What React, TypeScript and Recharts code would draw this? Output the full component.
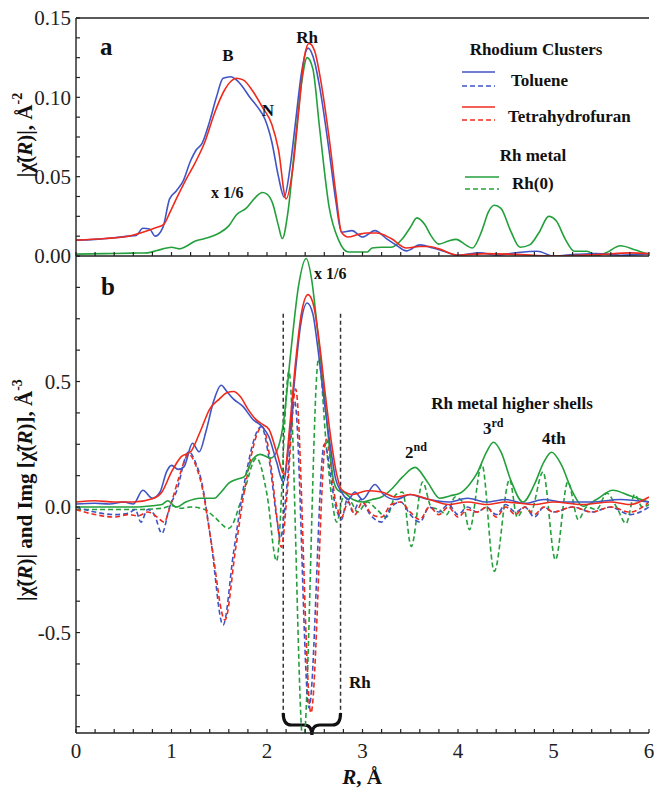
import React from "react";
import { LineChart, Line, XAxis, YAxis, ReferenceLine } from "recharts";

const SERIF = '"Liberation Serif", "Times New Roman", serif';
const INK = "#222";
const BLUE = "#3f55c6";
const RED = "#ef2b1d";
const GREEN = "#23a03b";

// axis ticks
const rTicks = [0, 0.2, 0.4, 0.6, 0.8, 1, 1.2, 1.4, 1.6, 1.8, 2, 2.2, 2.4, 2.6, 2.8, 3, 3.2, 3.4, 3.6, 3.8, 4, 4.2, 4.4, 4.6, 4.8, 5, 5.2, 5.4, 5.6, 5.8, 6];
const rLabels = [0, 1, 2, 3, 4, 5, 6];
const aTicks = [0, 0.0125, 0.025, 0.0375, 0.05, 0.0625, 0.075, 0.0875, 0.1, 0.1125, 0.125, 0.1375, 0.15];
const aLabels = [0, 0.05, 0.1, 0.15];
const bTicks = [-0.875, -0.75, -0.625, -0.5, -0.375, -0.25, -0.125, 0, 0.125, 0.25, 0.375, 0.5, 0.625, 0.75, 0.875, 1];
const bLabels = [-0.5, 0, 0.5];

// panel a: |chi(R)|, k^2
const aTolR = [0, 0.2, 0.4, 0.55, 0.63, 0.7, 0.77, 0.83, 0.91, 0.98, 1.05, 1.12, 1.2, 1.26, 1.32, 1.4, 1.47, 1.54, 1.62, 1.68, 1.74, 1.82, 1.9, 1.98, 2.05, 2.12, 2.18, 2.24, 2.3, 2.36, 2.43, 2.5, 2.55, 2.66, 2.72, 2.78, 2.89, 3.0, 3.13, 3.25, 3.35, 3.46, 3.6, 3.74, 3.85, 3.99, 4.23, 4.4, 4.6, 4.83, 5.0, 5.24, 5.45, 5.7, 6.0];
const aTolY = [0.01, 0.0105, 0.0115, 0.0125, 0.013, 0.0175, 0.017, 0.0125, 0.018, 0.036, 0.041, 0.047, 0.06, 0.067, 0.071, 0.085, 0.1, 0.112, 0.113, 0.111, 0.107, 0.1, 0.094, 0.086, 0.072, 0.05, 0.037, 0.055, 0.085, 0.115, 0.131, 0.122, 0.107, 0.062, 0.035, 0.015, 0.016, 0.012, 0.016, 0.011, 0.007, 0.0032, 0.007, 0.005, 0.003, 0.0005, 0.002, 0.0005, 0.002, 0.003, 0.0, 0.001, 0.0015, 0.0005, 0.0015];
const aThfR = [0, 0.3, 0.55, 0.7, 0.82, 0.92, 0.98, 1.05, 1.15, 1.25, 1.35, 1.45, 1.55, 1.62, 1.68, 1.75, 1.85, 1.95, 2.05, 2.12, 2.2, 2.27, 2.33, 2.39, 2.44, 2.5, 2.55, 2.66, 2.72, 2.78, 2.85, 2.95, 3.05, 3.15, 3.3, 3.46, 3.6, 3.7, 3.8, 4.0, 4.3, 4.6, 5.0, 5.5, 5.8, 6.0];
const aThfY = [0.01, 0.011, 0.0125, 0.015, 0.0175, 0.02, 0.027, 0.036, 0.048, 0.059, 0.072, 0.09, 0.104, 0.11, 0.112, 0.111, 0.104, 0.094, 0.083, 0.067, 0.036, 0.055, 0.09, 0.125, 0.134, 0.129, 0.115, 0.07, 0.04, 0.015, 0.012, 0.0135, 0.0145, 0.0145, 0.011, 0.005, 0.006, 0.006, 0.0045, 0.0005, 0.0015, 0.001, 0.0, 0.001, 0.002, 0.0015];
const aRhR = [0, 0.3, 0.6, 0.75, 0.85, 0.95, 1.0, 1.08, 1.15, 1.25, 1.35, 1.5, 1.6, 1.68, 1.78, 1.88, 1.95, 2.0, 2.06, 2.12, 2.16, 2.22, 2.3, 2.36, 2.42, 2.48, 2.55, 2.65, 2.75, 2.85, 2.95, 3.05, 3.1, 3.2, 3.3, 3.42, 3.5, 3.57, 3.65, 3.72, 3.8, 3.9, 3.98, 4.08, 4.15, 4.25, 4.32, 4.38, 4.45, 4.55, 4.65, 4.75, 4.85, 4.95, 5.03, 5.12, 5.22, 5.35, 5.45, 5.55, 5.7, 5.85, 6.0];
const aRhY = [0.0012, 0.0015, 0.0018, 0.002, 0.0035, 0.005, 0.0055, 0.0045, 0.006, 0.0095, 0.011, 0.0145, 0.019, 0.026, 0.03, 0.037, 0.04, 0.039, 0.033, 0.019, 0.011, 0.028, 0.075, 0.108, 0.125, 0.118, 0.081, 0.031, 0.01, 0.0025, 0.0025, 0.0025, 0.005, 0.0055, 0.0055, 0.011, 0.018, 0.024, 0.02, 0.0125, 0.0075, 0.0095, 0.0105, 0.007, 0.005, 0.016, 0.028, 0.032, 0.03, 0.016, 0.0055, 0.007, 0.015, 0.025, 0.022, 0.011, 0.003, 0.003, 0.0002, 0.002, 0.0065, 0.004, 0.001];

// panel b: magnitude (solid) and imaginary part (dashed), k^3
const bTolR = [0, 0.2, 0.35, 0.5, 0.6, 0.7, 0.8, 0.88, 0.95, 1.0, 1.07, 1.13, 1.22, 1.29, 1.36, 1.44, 1.52, 1.58, 1.65, 1.75, 1.85, 1.95, 2.02, 2.1, 2.17, 2.24, 2.3, 2.35, 2.42, 2.48, 2.53, 2.6, 2.66, 2.72, 2.78, 2.85, 2.92, 3.0, 3.13, 3.22, 3.35, 3.5, 3.6, 3.7, 3.9, 4.1, 4.3, 4.5, 4.7, 4.9, 5.1, 5.4, 5.7, 6.0];
const bTolY = [0.012, 0.015, 0.012, 0.02, 0.012, 0.067, 0.035, 0.06, 0.142, 0.166, 0.15, 0.16, 0.254, 0.22, 0.3, 0.42, 0.485, 0.46, 0.43, 0.4, 0.35, 0.32, 0.28, 0.18, 0.1, 0.3, 0.55, 0.72, 0.813, 0.77, 0.64, 0.42, 0.25, 0.11, 0.06, 0.03, 0.06, 0.03, 0.09, 0.05, 0.03, 0.05, 0.04, 0.03, 0.02, 0.035, 0.02, 0.03, 0.015, 0.03, 0.02, 0.02, 0.03, 0.02];
const bThfR = [0, 0.2, 0.4, 0.6, 0.8, 0.9, 1.0, 1.1, 1.2, 1.3, 1.4, 1.5, 1.58, 1.65, 1.72, 1.8, 1.88, 1.95, 2.02, 2.1, 2.18, 2.24, 2.3, 2.36, 2.43, 2.49, 2.55, 2.61, 2.67, 2.73, 2.78, 2.9, 3.05, 3.2, 3.35, 3.5, 3.7, 3.9, 4.1, 4.3, 4.5, 4.8, 5.0, 5.3, 5.6, 5.8, 6.0];
const bThfY = [0.02, 0.025, 0.02, 0.02, 0.033, 0.06, 0.14, 0.2, 0.22, 0.3, 0.39, 0.43, 0.455, 0.46, 0.44, 0.39, 0.35, 0.33, 0.31, 0.22, 0.13, 0.33, 0.58, 0.77, 0.846, 0.8, 0.65, 0.45, 0.27, 0.13, 0.07, 0.05, 0.065, 0.06, 0.04, 0.05, 0.03, 0.01, 0.02, 0.01, 0.02, 0.01, 0.02, 0.01, 0.02, 0.01, 0.04];
const bRhR = [0, 0.3, 0.6, 0.8, 0.9, 0.96, 1.05, 1.15, 1.3, 1.45, 1.52, 1.6, 1.68, 1.76, 1.85, 1.93, 2.04, 2.12, 2.17, 2.25, 2.33, 2.41, 2.47, 2.53, 2.59, 2.65, 2.7, 2.75, 2.8, 2.9, 3.0, 3.1, 3.2, 3.3, 3.42, 3.55, 3.68, 3.81, 3.92, 4.02, 4.12, 4.2, 4.3, 4.37, 4.45, 4.55, 4.68, 4.8, 4.9, 4.98, 5.08, 5.2, 5.31, 5.45, 5.62, 5.8, 6.0];
const bRhY = [0.0, 0.0, 0.0, 0.005, 0.01, 0.025, 0.0, 0.02, 0.035, 0.035, 0.06, 0.095, 0.11, 0.12, 0.19, 0.21, 0.195, 0.24, 0.33, 0.62, 0.88, 0.99, 0.9, 0.7, 0.49, 0.25, 0.1, 0.065, 0.06, 0.03, 0.02, 0.03, 0.04, 0.07, 0.12, 0.158, 0.1, 0.035, 0.045, 0.055, 0.09, 0.135, 0.22, 0.258, 0.22, 0.11, 0.02, 0.09, 0.18, 0.218, 0.17, 0.06, 0.003, 0.03, 0.067, 0.045, 0.02];

const bTolImR = [0, 0.2, 0.4, 0.55, 0.62, 0.68, 0.75, 0.82, 0.9, 0.98, 1.05, 1.18, 1.26, 1.31, 1.41, 1.54, 1.65, 1.76, 1.94, 2.03, 2.1, 2.14, 2.2, 2.29, 2.44, 2.6, 2.72, 2.78, 2.84, 2.9, 2.98, 3.08, 3.2, 3.3, 3.4, 3.5, 3.6, 3.7, 3.8, 3.9, 4.0, 4.1, 4.2, 4.3, 4.4, 4.5, 4.6, 4.7, 4.8, 4.9, 5.0, 5.2, 5.4, 5.6, 5.8, 6.0];
const bTolImY = [0.0, -0.02, -0.03, -0.025, -0.01, -0.06, -0.01, -0.03, -0.105, 0.0, 0.06, 0.22, 0.17, 0.11, -0.125, -0.47, -0.18, 0.09, 0.32, 0.17, -0.04, -0.125, 0.05, 0.42, -0.8, 0.25, 0.0, -0.05, 0.03, -0.02, 0.03, -0.03, -0.06, 0.0, 0.02, -0.03, -0.06, 0.0, -0.02, 0.01, -0.03, 0.0, -0.02, 0.0, -0.03, 0.01, -0.02, 0.0, -0.04, 0.0, -0.02, 0.0, -0.02, 0.0, -0.03, 0.0];
const bThfImR = [0, 0.2, 0.4, 0.55, 0.65, 0.75, 0.85, 0.92, 1.0, 1.08, 1.18, 1.26, 1.32, 1.42, 1.56, 1.67, 1.78, 1.95, 2.04, 2.1, 2.15, 2.21, 2.3, 2.46, 2.62, 2.72, 2.78, 2.85, 2.92, 3.0, 3.1, 3.2, 3.3, 3.4, 3.5, 3.6, 3.7, 3.8, 3.9, 4.0, 4.1, 4.2, 4.3, 4.4, 4.5, 4.6, 4.7, 4.8, 4.9, 5.0, 5.2, 5.4, 5.6, 5.8, 6.0];
const bThfImY = [-0.01, -0.03, -0.04, -0.03, -0.035, -0.02, -0.04, -0.06, 0.02, 0.12, 0.21, 0.16, 0.08, -0.15, -0.45, -0.17, 0.1, 0.32, 0.17, -0.03, -0.16, 0.05, 0.47, -0.82, 0.27, 0.02, -0.04, 0.02, -0.03, 0.02, -0.03, -0.04, 0.01, 0.02, -0.02, -0.05, 0.0, -0.03, 0.0, -0.04, -0.01, -0.02, 0.0, -0.04, 0.0, -0.03, 0.0, -0.03, 0.0, -0.02, 0.0, -0.02, 0.0, -0.02, 0.02];
const bRhImR = [0, 0.3, 0.6, 0.9, 1.0, 1.1, 1.2, 1.35, 1.45, 1.6, 1.75, 1.89, 2.0, 2.1, 2.23, 2.38, 2.54, 2.62, 2.68, 2.73, 2.8, 2.88, 2.95, 3.05, 3.15, 3.25, 3.35, 3.42, 3.51, 3.63, 3.72, 3.8, 3.88, 3.97, 4.05, 4.12, 4.25, 4.38, 4.54, 4.62, 4.7, 4.76, 4.89, 5.02, 5.15, 5.26, 5.35, 5.45, 5.56, 5.66, 5.76, 5.85, 5.93, 6.0];
const bRhImY = [-0.01, -0.01, -0.01, -0.005, 0.005, -0.005, 0.0, -0.01, -0.04, -0.085, 0.05, 0.195, 0.05, -0.215, 0.54, -0.95, 0.59, 0.25, 0.03, -0.06, 0.04, 0.02, -0.02, 0.02, -0.01, -0.04, 0.05, 0.06, -0.157, 0.1, 0.0, -0.01, -0.03, 0.04, 0.02, -0.09, 0.17, -0.256, 0.11, -0.04, 0.0, -0.02, 0.14, -0.21, 0.1, -0.05, 0.0, -0.01, 0.055, 0.0, -0.065, 0.05, 0.0, 0.01];

// Rh window markers and brace
const rhWindow = [2.17, 2.77];
const rhWindowTop = 0.77;
const rhWindowBottom = -0.82;

const pts = (r: number[], v: number[]) => r.map((x, i) => ({ r: x, v: v[i] }));
const near = (list: number[], v: number) => list.some((l) => Math.abs(l - v) < 1e-6);

const tickText = { fontFamily: SERIF, fontSize: 21, fill: INK };

const XTick = (p: any) => {
  const v = p.payload.value;
  if (!near(rLabels, v)) return <g />;
  return (
    <text x={p.x} y={p.y} dy="0.71em" textAnchor="middle" style={tickText}>
      {v}
    </text>
  );
};
const NoTick = () => <g />;
const ATick = (p: any) => {
  const v = p.payload.value;
  if (!near(aLabels, v)) return <g />;
  return (
    <text x={p.x} y={p.y} dy="0.35em" textAnchor="end" style={tickText}>
      {v.toFixed(2)}
    </text>
  );
};
const BTick = (p: any) => {
  const v = p.payload.value;
  if (!near(bLabels, v)) return <g />;
  return (
    <text x={p.x} y={p.y} dy="0.35em" textAnchor="end" style={tickText}>
      {v.toFixed(1)}
    </text>
  );
};

const Brace = (p: any) => {
  const { x1, y1, x2 } = p;
  const h = 22;
  const m = (x1 + x2) / 2;
  const q = 8;
  const yb = y1 + h * 0.55;
  const d = `M${x1},${y1} Q${x1},${yb} ${x1 + q},${yb} L${m - q},${yb} Q${m},${yb} ${m},${y1 + h} Q${m},${yb} ${m + q},${yb} L${x2 - q},${yb} Q${x2},${yb} ${x2},${y1}`;
  return <path d={d} fill="none" stroke="#111" strokeWidth={3.2} />;
};

const axisLine = { stroke: INK, strokeWidth: 1.4 };
const tickLine = { stroke: INK, strokeWidth: 1.2 };

function series(r: number[], v: number[], color: string, dashed: boolean, key: string) {
  return (
    <Line
      key={key}
      xAxisId="b"
      yAxisId="l"
      data={pts(r, v)}
      dataKey="v"
      type="monotone"
      stroke={color}
      strokeWidth={1.6}
      strokeDasharray={dashed ? "5 3" : undefined}
      dot={false}
      activeDot={false}
      isAnimationActive={false}
    />
  );
}

const T = (props: any) => (
  <text fontFamily={SERIF} fontWeight="bold" fill="#111" {...props} />
);

export default function App() {
  return (
    <div style={{ position: "absolute", left: 0, top: 0, width: 654, height: 789, background: "#fff" }}>
      <div style={{ position: "absolute", left: 0, top: 0 }}>
        <LineChart width={654} height={272} margin={{ top: 0, right: 5, bottom: 0, left: 0 }}>
          <XAxis xAxisId="b" type="number" dataKey="r" domain={[0, 6]} ticks={rTicks} interval={0} height={16} tickSize={-4} tick={NoTick} axisLine={axisLine} tickLine={tickLine} allowDataOverflow />
          <XAxis xAxisId="t" orientation="top" type="number" dataKey="r" domain={[0, 6]} ticks={rTicks} interval={0} height={18} tickSize={-4} tick={NoTick} axisLine={axisLine} tickLine={tickLine} />
          <YAxis yAxisId="l" type="number" domain={[0, 0.15]} ticks={aTicks} interval={0} width={76} tickSize={-4} tickMargin={9} tick={ATick} axisLine={axisLine} tickLine={tickLine} allowDataOverflow />
          <YAxis yAxisId="r" orientation="right" type="number" domain={[0, 0.15]} ticks={aTicks} interval={0} width={0} tickSize={-4} tick={NoTick} axisLine={axisLine} tickLine={tickLine} />
          {series(aRhR, aRhY, GREEN, false, "aRh")}
          {series(aTolR, aTolY, BLUE, false, "aTol")}
          {series(aThfR, aThfY, RED, false, "aThf")}
        </LineChart>
      </div>
      <div style={{ position: "absolute", left: 0, top: 256 }}>
        <LineChart width={654} height={533} margin={{ top: 0, right: 5, bottom: 0, left: 0 }}>
          <XAxis xAxisId="b" type="number" dataKey="r" domain={[0, 6]} ticks={rTicks} interval={0} height={56} tickSize={-4} tickMargin={14} tick={XTick} axisLine={axisLine} tickLine={tickLine} allowDataOverflow />
          <YAxis yAxisId="l" type="number" domain={[-0.9, 1]} ticks={bTicks} interval={0} width={76} tickSize={-4} tickMargin={9} tick={BTick} axisLine={axisLine} tickLine={tickLine} allowDataOverflow />
          <YAxis yAxisId="r" orientation="right" type="number" domain={[-0.9, 1]} ticks={bTicks} interval={0} width={0} tickSize={-4} tick={NoTick} axisLine={axisLine} tickLine={tickLine} />
          {rhWindow.map((x) => (
            <ReferenceLine key={x} xAxisId="b" yAxisId="l" segment={[{ x, y: rhWindowTop }, { x, y: rhWindowBottom }]} stroke="#333" strokeWidth={1.5} strokeDasharray="4 3" />
          ))}
          <ReferenceLine xAxisId="b" yAxisId="l" segment={[{ x: rhWindow[0], y: rhWindowBottom }, { x: rhWindow[1], y: rhWindowBottom }]} shape={Brace} />
          {series(bRhImR, bRhImY, GREEN, true, "bRhIm")}
          {series(bTolImR, bTolImY, BLUE, true, "bTolIm")}
          {series(bThfImR, bThfImY, RED, true, "bThfIm")}
          {series(bRhR, bRhY, GREEN, false, "bRh")}
          {series(bTolR, bTolY, BLUE, false, "bTol")}
          {series(bThfR, bThfY, RED, false, "bThf")}
        </LineChart>
      </div>
      <svg width={654} height={789} style={{ position: "absolute", left: 0, top: 0, pointerEvents: "none" }}>
        {/* panel a labels */}
        <T x={100} y={55} fontSize={25}>a</T>
        <T x={228} y={61} fontSize={17} textAnchor="middle">B</T>
        <T x={268} y={116} fontSize={17} textAnchor="middle">N</T>
        <T x={307} y={43} fontSize={17} textAnchor="middle">Rh</T>
        <T x={211} y={198} fontSize={16}>x 1/6</T>
        {/* legend */}
        <T x={536} y={55} fontSize={17} textAnchor="middle">Rhodium Clusters</T>
        <line x1={462} x2={495} y1={72} y2={72} stroke={BLUE} strokeWidth={1.6} />
        <line x1={462} x2={495} y1={86} y2={86} stroke={BLUE} strokeWidth={1.6} strokeDasharray="5 3" />
        <T x={511} y={86} fontSize={17}>Toluene</T>
        <line x1={462} x2={495} y1={107} y2={107} stroke={RED} strokeWidth={1.6} />
        <line x1={462} x2={495} y1={120} y2={120} stroke={RED} strokeWidth={1.6} strokeDasharray="5 3" />
        <T x={508} y={122} fontSize={17}>Tetrahydrofuran</T>
        <T x={533} y={161} fontSize={17} textAnchor="middle">Rh metal</T>
        <line x1={465} x2={499} y1={177} y2={177} stroke={GREEN} strokeWidth={1.6} />
        <line x1={465} x2={499} y1={189} y2={189} stroke={GREEN} strokeWidth={1.6} strokeDasharray="5 3" />
        <T x={512} y={189} fontSize={17}>Rh(0)</T>
        {/* panel b labels */}
        <T x={101} y={295} fontSize={25}>b</T>
        <T x={314} y={279} fontSize={16}>x 1/6</T>
        <T x={512} y={409} fontSize={17} textAnchor="middle">Rh metal higher shells</T>
        <T x={405} y={458} fontSize={17}>2<tspan dy={-7} fontSize={12}>nd</tspan></T>
        <T x={483} y={434} fontSize={17}>3<tspan dy={-7} fontSize={12}>rd</tspan></T>
        <T x={542} y={444} fontSize={17}>4th</T>
        <T x={349} y={688} fontSize={17}>Rh</T>
        {/* axis titles */}
        <T x={25} y={135} fontSize={21} textAnchor="middle" dominantBaseline="central" transform="rotate(-90 25 135)">
          |χ̃(<tspan fontStyle="italic">R</tspan>)|, Å<tspan dy={-8} fontSize={14}>-2</tspan>
        </T>
        <T x={25} y={490} fontSize={21} textAnchor="middle" dominantBaseline="central" transform="rotate(-90 25 490)">
          |χ̃(<tspan fontStyle="italic">R</tspan>)| and Img [χ̃(<tspan fontStyle="italic">R</tspan>)], Å<tspan dy={-8} fontSize={14}>-3</tspan>
        </T>
        <T x={362} y={784} fontSize={21} textAnchor="middle">
          <tspan fontStyle="italic">R</tspan>,  Å
        </T>
      </svg>
    </div>
  );
}
